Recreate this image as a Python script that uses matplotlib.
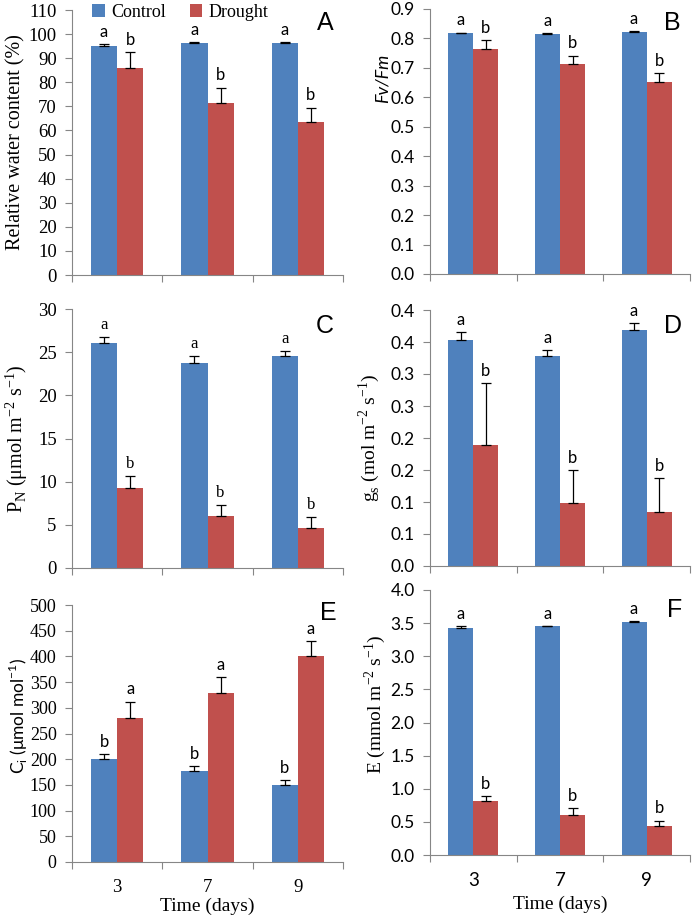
import numpy as np
import matplotlib
matplotlib.use("Agg")
import matplotlib.pyplot as plt

# ---- data ----
days = ["3", "7", "9"]

rwc_ctrl = [95.0, 96.3, 96.3]
rwc_ctrl_err = [1.0, 0.5, 0.5]
rwc_drt = [86.0, 71.3, 63.5]
rwc_drt_err = [6.5, 6.5, 6.0]
rwc_letters = [("a", "b"), ("a", "b"), ("a", "b")]

fvfm_ctrl = [0.818, 0.815, 0.823]
fvfm_ctrl_err = [0.002, 0.002, 0.002]
fvfm_drt = [0.765, 0.712, 0.651]
fvfm_drt_err = [0.030, 0.030, 0.032]
fvfm_letters = [("a", "b"), ("a", "b"), ("a", "b")]

pn_ctrl = [26.1, 23.8, 24.5]
pn_ctrl_err = [0.6, 0.7, 0.6]
pn_drt = [9.3, 6.0, 4.6]
pn_drt_err = [1.3, 1.3, 1.3]
pn_letters = [("a", "b"), ("a", "b"), ("a", "b")]

gs_ctrl = [0.353, 0.328, 0.368]
gs_ctrl_err = [0.012, 0.010, 0.012]
gs_drt = [0.189, 0.098, 0.084]
gs_drt_err = [0.097, 0.052, 0.053]
gs_letters = [("a", "b"), ("a", "b"), ("a", "b")]
gs_ticklabels = ["0.0", "0.1", "0.1", "0.2", "0.2", "0.3", "0.3", "0.4", "0.4"]

ci_ctrl = [200, 177, 150]
ci_ctrl_err = [10, 10, 10]
ci_drt = [280, 328, 400]
ci_drt_err = [32, 32, 30]
ci_letters = [("b", "a"), ("b", "a"), ("b", "a")]

e_ctrl = [3.43, 3.45, 3.51]
e_ctrl_err = [0.03, 0.01, 0.02]
e_drt = [0.81, 0.61, 0.44]
e_drt_err = [0.08, 0.10, 0.08]
e_letters = [("a", "b"), ("a", "b"), ("a", "b")]

BLUE = "#4F81BD"
RED = "#C0504D"
SPINE = "#868686"
SERIF = "Liberation Serif"
SANS = "Lato"

W, H = 697, 917
fig = plt.figure(figsize=(W / 100, H / 100), dpi=100)


def px_axes(left, top, right, bottom):
    return fig.add_axes([left / W, 1 - bottom / H, (right - left) / W, (bottom - top) / H])


def panel(ax, ctrl, cerr, drt, derr, letters, ylim, step, tickfont, ticksize,
          ticklabels=None, fmt="%d", letterfont=SANS):
    x = np.arange(len(ctrl)) + 0.5
    bw = 0.29
    ek = dict(ecolor="black", elinewidth=0.9, capsize=3.5, capthick=0.9)
    ax.bar(x - bw / 2, ctrl, bw, color=BLUE, yerr=[np.zeros(len(ctrl)), cerr],
           error_kw=ek, label="Control", zorder=2)
    ax.bar(x + bw / 2, drt, bw, color=RED, yerr=[np.zeros(len(drt)), derr],
           error_kw=ek, label="Drought", zorder=2)
    for i in range(len(ctrl)):
        for dx, v, e, s in ((-bw / 2, ctrl[i], cerr[i], letters[i][0]),
                            (bw / 2, drt[i], derr[i], letters[i][1])):
            ax.annotate(s, (x[i] + dx, v + e), xytext=(0, 3), textcoords="offset points",
                        ha="center", va="bottom", fontsize=12, family=letterfont)
    ax.set_xlim(0, len(ctrl))
    ax.set_ylim(*ylim)
    ticks = np.arange(ylim[0], ylim[1] + step / 2, step)
    ax.set_yticks(ticks)
    if ticklabels is None:
        ticklabels = [fmt % t for t in ticks]
    ax.set_yticklabels(ticklabels, family=tickfont, fontsize=ticksize)
    ax.set_xticks(np.arange(len(ctrl) + 1))
    ax.set_xticklabels([])
    ax.tick_params(axis="x", length=5, color=SPINE, direction="out")
    ax.tick_params(axis="y", length=5, color=SPINE, direction="out", pad=6)
    for sp in ("top", "right"):
        ax.spines[sp].set_visible(False)
    for sp in ("left", "bottom"):
        ax.spines[sp].set_color(SPINE)
    return x


def tag(s, xpx, ypx):
    fig.text(xpx / W, 1 - ypx / H, s, ha="center", va="center", fontsize=18,
             family="Liberation Sans")


LX0, LX1 = 72, 343
RX0, RX1 = 430, 690

axA = px_axes(LX0, 10, LX1, 275)
panel(axA, rwc_ctrl, rwc_ctrl_err, rwc_drt, rwc_drt_err, rwc_letters, (0, 110), 10, SERIF, 13.5)
axA.set_ylabel("Relative water content (%)", family=SERIF, fontsize=14.5, labelpad=2)
axA.legend(loc="upper center", bbox_to_anchor=(0.4, 1.065), ncol=2, frameon=False,
           prop={"family": SERIF, "size": 13}, handlelength=0.7, handleheight=0.7,
           columnspacing=1.3, handletextpad=0.35, borderpad=0.1)
tag("A", 325, 23)

axB = px_axes(RX0, 9, RX1, 274)
panel(axB, fvfm_ctrl, fvfm_ctrl_err, fvfm_drt, fvfm_drt_err, fvfm_letters, (0, 0.9), 0.1, SANS,
      12.5, fmt="%.1f")
axB.set_ylabel("Fv/Fm", family=SANS, style="italic", fontsize=13)
axB.yaxis.set_label_coords(-0.15, 0.74)
tag("B", 672, 23)

axC = px_axes(LX0, 309, LX1, 568)
panel(axC, pn_ctrl, pn_ctrl_err, pn_drt, pn_drt_err, pn_letters, (0, 30), 5, SERIF, 13.5,
      letterfont=SERIF)
axC.set_ylabel("P$_\\mathregular{N}$ (\u03bcmol m$^\\mathregular{-2}$ s$^\\mathregular{-1}$)",
               family=SERIF, fontsize=14.5, labelpad=6)
tag("C", 325, 326)

axD = px_axes(RX0, 310, RX1, 566)
panel(axD, gs_ctrl, gs_ctrl_err, gs_drt, gs_drt_err, gs_letters, (0, 0.4), 0.05, SANS, 12.5,
      ticklabels=gs_ticklabels)
axD.set_ylabel("g$_\\mathregular{s}$ (mol m$^\\mathregular{-2}$ s$^\\mathregular{-1}$)",
               family=SERIF, fontsize=14, labelpad=6)
tag("D", 673, 326)

axE = px_axes(LX0, 605, LX1, 862)
panel(axE, ci_ctrl, ci_ctrl_err, ci_drt, ci_drt_err, ci_letters, (0, 500), 50, SERIF, 13)
axE.set_ylabel("C$_\\mathregular{i}$ (\u03bcmol mol$^\\mathregular{-1}$)", family=SANS, fontsize=12.5)
axE.yaxis.set_label_coords(-0.155, 0.57)
tag("E", 328, 613)

axF = px_axes(RX0, 590, RX1, 855)
panel(axF, e_ctrl, e_ctrl_err, e_drt, e_drt_err, e_letters, (0, 4.0), 0.5, SANS, 12.5, fmt="%.1f")
axF.set_ylabel("E (mmol m$^\\mathregular{-2}$ s$^\\mathregular{-1}$)", family=SERIF, fontsize=14)
axF.yaxis.set_label_coords(-0.16, 0.57)
tag("F", 675, 610)

# category labels under the bottom row
for ax, fam, off, toff in ((axE, SERIF, 25, 44), (axF, SANS, 25, 49)):
    for xi, d in zip(np.arange(len(days)) + 0.5, days):
        ax.annotate(d, (xi, 0), xytext=(0, -off), textcoords="offset pixels", ha="center",
                    va="center", family=fam, fontsize=13.5)
    ax.annotate("Time (days)", (0.5, 0), xycoords="axes fraction", xytext=(0, -toff),
                textcoords="offset pixels", ha="center", va="center", family=SERIF, fontsize=14)

fig.savefig("out.png", dpi=100)
